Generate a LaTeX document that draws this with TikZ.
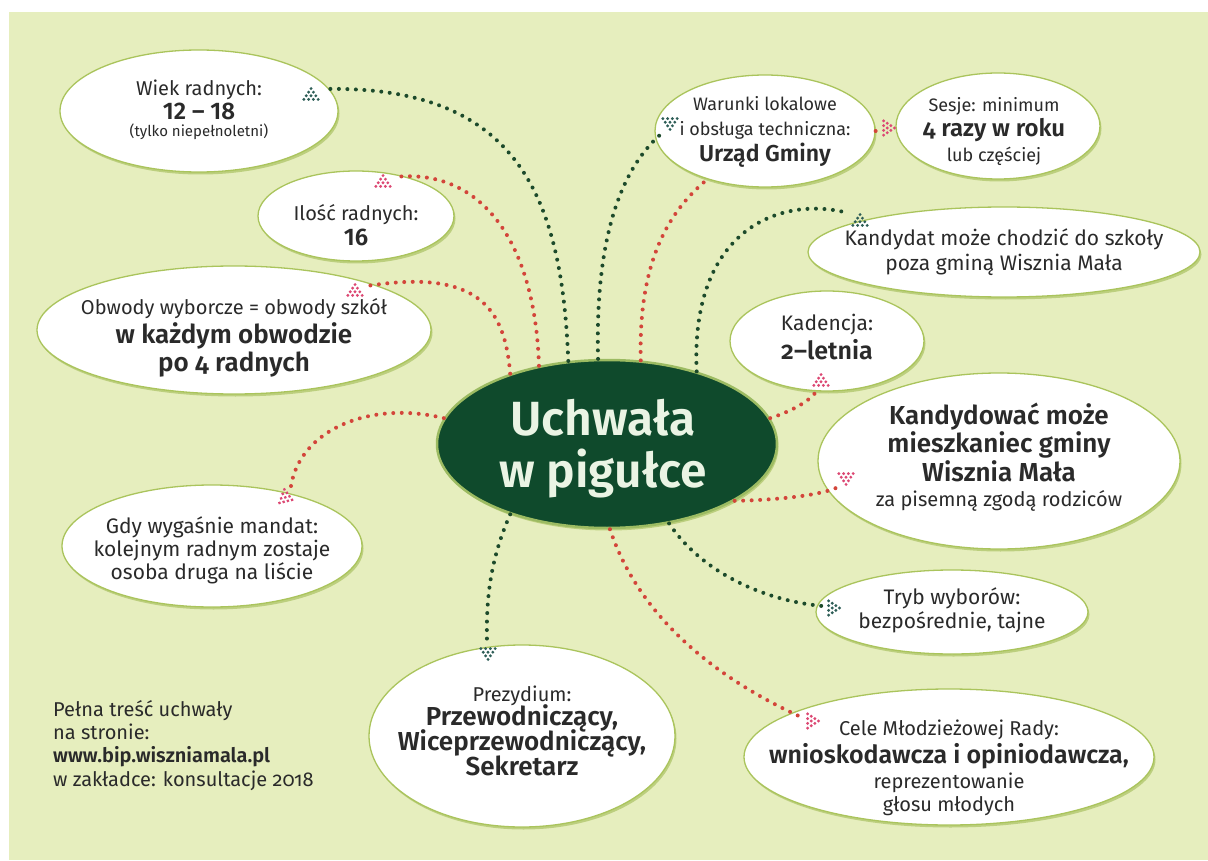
\documentclass[tikz,border=0pt]{standalone}
\usepackage{fontspec}
\setmainfont{Fira Sans}[BoldFont={Fira Sans SemiBold}]
\usetikzlibrary{shapes.geometric,shadows}
\definecolor{bg}{HTML}{E6EEBE}
\definecolor{txt}{HTML}{2A2A2A}
\definecolor{rim}{HTML}{AAC45C}
\definecolor{shade}{HTML}{BCCF7E}
\definecolor{dkg}{HTML}{0F4A2C}
\definecolor{crim}{HTML}{9CBB62}
\definecolor{ctext}{HTML}{EAF4E4}
\definecolor{lineG}{HTML}{1C4A2B}
\definecolor{lineR}{HTML}{D3453A}
\definecolor{headG}{HTML}{2E5E57}
\definecolor{headR}{HTML}{DC4873}
\newcommand\fsz[2]{\fontsize{#1}{#2}\selectfont}
\newcommand\osf[1]{{\addfontfeature{Numbers=OldStyle}#1}}
\lineskiplimit=-100pt
\tikzset{
  bubble/.style={ellipse, fill=white, draw=rim, line width=1.3pt, inner sep=0pt,
    drop shadow={shadow xshift=1.5pt, shadow yshift=-2.5pt, fill=shade, opacity=1}},
  txtbox/.style={align=center, text=txt, inner sep=0pt},
  gline/.style={draw=lineG, line width=4pt, line cap=round, dash pattern=on 0pt off 8.5pt},
  rline/.style={draw=lineR, line width=4pt, line cap=round, dash pattern=on 0pt off 8.5pt},
  pics/grape/.style={code={
    \foreach \gx/\gy in {-5.4/-7.2,-5.4/-2.4,-5.4/2.4,-5.4/7.2,-1.8/-4.8,-1.8/0,-1.8/4.8,1.8/-2.4,1.8/2.4,5.4/0}
      {\fill[#1] (\gx,\gy) circle[radius=1.6];}
  }}
}
\begin{document}
\begin{tikzpicture}[x=1pt,y=-1pt]
\useasboundingbox (0,0) rectangle (1208,861);
\fill[white] (0,0) rectangle (1208,861);
\fill[bg] (9,12) rectangle (1208,860);

% bubbles
\node[bubble, minimum width=278, minimum height=122] (wiek) at (199,111) {};
\node[bubble, minimum width=196, minimum height=90] (ilosc) at (356,216) {};
\node[bubble, minimum width=394, minimum height=128] (obwody) at (234,330) {};
\node[bubble, minimum width=300, minimum height=122] (gdy) at (212,546) {};
\node[bubble, minimum width=306, minimum height=182] (prez) at (522,736) {};
\node[bubble, minimum width=220, minimum height=112] (war) at (765,131) {};
\node[bubble, minimum width=204, minimum height=106] (sesje) at (998,126) {};
\node[bubble, minimum width=392, minimum height=90] (chodzic) at (1004,252) {};
\node[bubble, minimum width=194, minimum height=100] (kad) at (827,341) {};
\node[bubble, minimum width=362, minimum height=176] (kand) at (999,461) {};
\node[bubble, minimum width=272, minimum height=84] (tryb) at (952,612) {};
\node[bubble, minimum width=410, minimum height=136] (cele) at (949,757) {};
\node[ellipse, fill=dkg, draw=crim, line width=2.5pt, inner sep=0pt,
  minimum width=340, minimum height=168,
  drop shadow={shadow xshift=1.5pt, shadow yshift=-2.5pt, fill=shade, opacity=1}] (c) at (607,444) {};

% texts
\node[txtbox, font=\fsz{20}{24}] (wiekT) at (199,110)
  {Wiek radnych:\\{\bfseries\fsz{24}{24}12 -- 18}\\[-7pt]{\fsz{15}{17}(tylko niepełnoletni)}};
\node[txtbox, font=\fsz{20}{25}] (iloscT) at (356,225)
  {Ilość radnych:\\{\bfseries\fsz{24}{25}16}};
\node[txtbox, font=\fsz{20}{28}] (obwodyT) at (234,338)
  {Obwody wyborcze = obwody szkół\\[1pt]{\bfseries\fsz{26}{28}w każdym obwodzie}\\{\bfseries\fsz{26}{28}po \osf{4} radnych}};
\node[txtbox, font=\fsz{21}{23}] (gdyT) at (212,550)
  {Gdy wygaśnie mandat:\\kolejnym radnym zostaje\\osoba druga na liście};
\node[txtbox, text=ctext, font=\bfseries\fsz{48}{52}] (cT) at (603,449)
  {Uchwała\\w pigułce};
\node[txtbox, font=\fsz{20}{25}] (prezT) at (522,731)
  {Prezydium:\\[-1pt]{\bfseries\fsz{26}{25}Przewodniczący,}\\{\bfseries\fsz{26}{25}Wiceprzewodniczący,}\\{\bfseries\fsz{26}{25}Sekretarz}};
\node[txtbox, font=\fsz{18}{25}] (warT) at (765,132)
  {Warunki lokalowe\\i obsługa techniczna:\\[1pt]{\bfseries\fsz{23}{25}Urząd Gminy}};
\node[txtbox, font=\fsz{18}{25}] (sesjeT) at (994,132)
  {Sesje: minimum\\{\bfseries\fsz{24}{25}\osf{4} razy w roku}\\lub częściej};
\node[txtbox, font=\fsz{21}{25}] (chodzicT) at (1004,252)
  {Kandydat może chodzić do szkoły\\poza gminą Wisznia Mała};
\node[txtbox, font=\fsz{21}{29}] (kadT) at (827,337)
  {Kadencja:\\{\bfseries\fsz{25}{29}\osf{2}–letnia}};
\node[txtbox, font=\bfseries\fsz{26}{28.5}] (kandT) at (999,457)
  {Kandydować może\\mieszkaniec gminy\\Wisznia Mała\\[-3pt]{\mdseries\fsz{20}{26}za pisemną zgodą rodziców}};
\node[txtbox, font=\fsz{21}{24}] (trybT) at (952,610)
  {Tryb wyborów:\\bezpośrednie, tajne};
\node[txtbox, font=\fsz{20}{25}] (celeT) at (949,768)
  {Cele Młodzieżowej Rady:\\[3pt]{\bfseries\fsz{25}{25}wnioskodawcza i opiniodawcza,}\\reprezentowanie\\[-2pt]głosu młodych};
\node[txtbox, align=left, anchor=north west, font=\fsz{20}{23.3}] (foot) at (53,700)
  {Pełna treść uchwały\\na stronie:\\{\bfseries www.bip.wiszniamala.pl}\\w zakładce: konsultacje \osf{2018}};

% connector ends
\coordinate (eWiek) at (324,89);
\coordinate (eIlosc) at (395,177);
\coordinate (eObw) at (367,286);
\coordinate (eGdy) at (291,486);
\coordinate (ePrez) at (487,641);
\coordinate (eCele) at (801,717);
\coordinate (eTryb) at (822,606);
\coordinate (eKand) at (836,488);
\coordinate (eKad) at (816,392);
\coordinate (eChod) at (848,213);
\coordinate (eWar) at (661,134);
\coordinate (eSes) at (878,128);

% connectors
\draw[gline] (c.115) .. controls (562,200) and (520,85) .. (eWiek);
\draw[rline] (c.131) .. controls (535,240) and (480,168) .. (eIlosc);
\draw[rline] (c.144) .. controls (505,310) and (480,268) .. (eObw);
\draw[rline] (c.171) .. controls (370,400) and (300,430) .. (eGdy);
\draw[gline] (c.216) .. controls (490,560) and (486,600) .. (ePrez);
\draw[rline] (c.272) .. controls (640,620) and (720,680) .. (eCele);
\draw[gline] (c.308) .. controls (700,570) and (760,600) .. (eTryb);
\draw[rline] (c.336) .. controls (780,500) and (820,495) .. (eKand);
\draw[rline] (c.9) .. controls (795,410) and (810,400) .. (eKad);
\draw[gline] (c.39) .. controls (690,230) and (780,195) .. (eChod);
\draw[rline] (c.68) .. controls (638,260) and (670,210) .. (war.220);
\draw[gline] (c.96) .. controls (595,240) and (620,170) .. (eWar);
\draw[rline] (war.east) -- (eSes);

% arrow heads
\pic[rotate=90] (hWiek) at (311,94) {grape=headG};
\pic[rotate=90] (hIlosc) at (383,181) {grape=headR};
\pic[rotate=90] (hObw) at (355,290) {grape=headR};
\pic[rotate=-20] (hGdy) at (287,498) {grape=headR};
\pic[rotate=-90] (hPrez) at (488,654) {grape=headG};
\pic (hCele) at (813,721) {grape=headR};
\pic (hTryb) at (834,608) {grape=headG};
\pic[rotate=-90] (hKand) at (846,479) {grape=headR};
\pic[rotate=90] (hKad) at (821,380) {grape=headR};
\pic[rotate=90] (hChod) at (860,220) {grape=headG};
\pic[rotate=-90] (hWar) at (670,124) {grape=headG};
\pic (hSes) at (889,128) {grape=headR};
\end{tikzpicture}
\end{document}
